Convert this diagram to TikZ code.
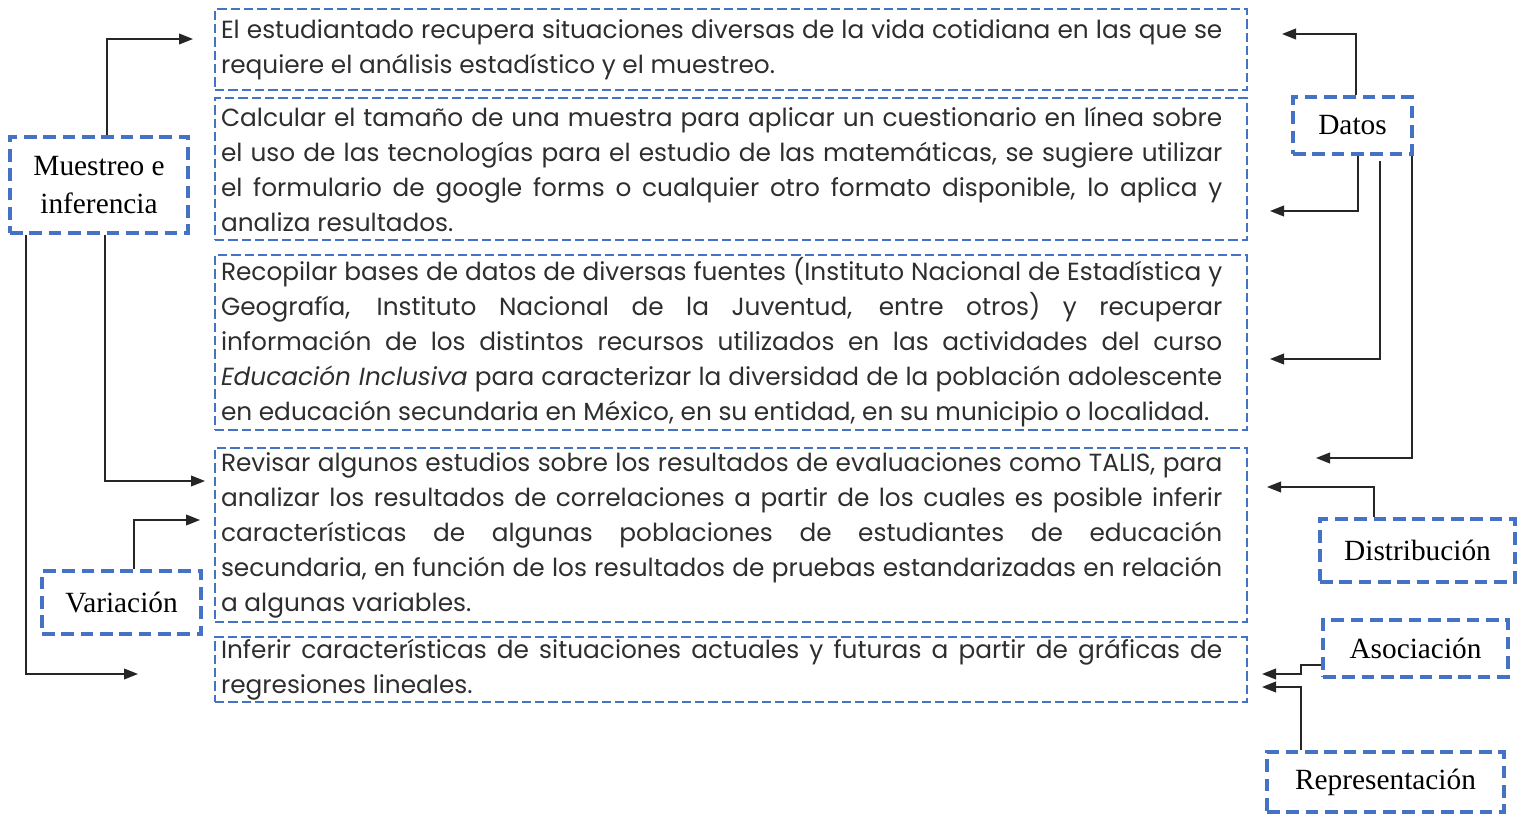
\documentclass[tikz,border=0pt]{standalone}
\usepackage{fontspec}
\setmainfont{Liberation Serif}
\newfontfamily\bodyfont{Poppins}
\usetikzlibrary{arrows.meta}
\definecolor{boxblue}{HTML}{4472C4}
\definecolor{bodytext}{HTML}{2E2E2E}
\tikzset{
  bigbox/.style={draw=boxblue, line width=1.5pt, dash pattern=on 7pt off 3pt,
    minimum width=774pt, inner xsep=4.5pt, inner ysep=0pt, text=bodytext},
  smallbox/.style={draw=boxblue, line width=2.8pt, dash pattern=on 9.5pt off 5pt,
    inner sep=0pt, align=center, font=\fontsize{22}{29}\selectfont},
  arr/.style={draw=black!85, line width=1.3pt, -{Triangle[length=10.5pt,width=8pt]}}
}
\newcommand{\bodypar}[1]{\parbox{751pt}{\bodyfont\fontsize{18.6}{26.25}\selectfont #1}\hspace*{14pt}}
\begin{document}
\begin{tikzpicture}[x=0.75pt,y=-0.75pt]
\useasboundingbox (0,0) rectangle (1524,830);
% big boxes
\node[bigbox, minimum height=60.75pt] (b1) at (731,49.5) {\bodypar{El estudiantado recupera situaciones diversas de la vida cotidiana en las que se\linebreak requiere el análisis estadístico y el muestreo.}};
\node[bigbox, minimum height=106.5pt] (b2) at (731,169) {\bodypar{Calcular el tamaño de una muestra para aplicar un cuestionario en línea sobre\linebreak el uso de las tecnologías para el estudio de las matemáticas, se sugiere utilizar\linebreak el formulario de google forms o cualquier otro formato disponible, lo aplica y\linebreak analiza resultados.}};
\node[bigbox, minimum height=131.25pt] (b3) at (731,342.5) {\bodypar{Recopilar bases de datos de diversas fuentes (Instituto Nacional de Estadística y\linebreak Geografía, Instituto Nacional de la Juventud, entre otros) y recuperar\linebreak información de los distintos recursos utilizados en las actividades del curso\linebreak \emph{Educación Inclusiva} para caracterizar la diversidad de la población adolescente\linebreak en educación secundaria en México, en su entidad, en su municipio o localidad.}};
\node[bigbox, minimum height=130.5pt] (b4) at (731,535) {\bodypar{Revisar algunos estudios sobre los resultados de evaluaciones como TALIS, para\linebreak analizar los resultados de correlaciones a partir de los cuales es posible inferir\linebreak características de algunas poblaciones de estudiantes de educación\linebreak secundaria, en función de los resultados de pruebas estandarizadas en relación\linebreak a algunas variables.}};
\node[bigbox, minimum height=48.75pt] (b5) at (731,669.5) {\bodypar{Inferir características de situaciones actuales y futuras a partir de gráficas de\linebreak regresiones lineales.}};
% small boxes
\node[smallbox, minimum width=133.5pt, minimum height=72pt] (m) at (99,185) {Muestreo e\\inferencia};
\node[smallbox, minimum width=89.25pt, minimum height=42.75pt] (d) at (1352.5,125.5) {\raisebox{-2pt}{Datos}};
\node[smallbox, minimum width=119.25pt, minimum height=47.25pt] (v) at (121.5,602.5) {Variación};
\node[smallbox, minimum width=146.25pt, minimum height=47.25pt] (di) at (1417.5,550.5) {Distribución};
\node[smallbox, minimum width=138.75pt, minimum height=42.75pt] (as) at (1415.5,648.5) {\raisebox{-1.5pt}{Asociación}};
\node[smallbox, minimum width=177.75pt, minimum height=45pt] (r) at (1385.5,782) {\raisebox{-1.5pt}{Representación}};
% arrow tips
\coordinate (t1) at (193,39);
\coordinate (t2) at (205,481);
\coordinate (t3) at (138,674);
\coordinate (t4) at (200,520);
\coordinate (t5) at (1282,34);
\coordinate (t6) at (1270,211);
\coordinate (t7) at (1270,359);
\coordinate (t8) at (1316,458);
\coordinate (t9) at (1267,487);
\coordinate (t10) at (1262,674);
\coordinate (t11) at (1262,687);
% connectors
\draw[arr] ([xshift=74.25pt]m.north west) |- (t1);
\draw[arr] ([xshift=72.75pt]m.south west) |- (t2);
\draw[arr] ([xshift=13.5pt]m.south west) |- (t3);
\draw[arr] ([xshift=70.5pt]v.north west) |- (t4);
\draw[arr] ([xshift=48.75pt]d.north west) |- (t5);
\draw[arr] ([xshift=50.25pt]d.south west) |- (t6);
\draw[arr] ([xshift=66.75pt,yshift=-4pt]d.south west) |- (t7);
\draw[arr] ([xshift=-1.5pt]d.south east) |- (t8);
\draw[arr] ([xshift=42pt]di.north west) |- (t9);
\draw[arr] ([yshift=-12.4pt]as.west) -- ++(-20,0) |- (t10);
\draw[arr] ([xshift=27pt]r.north west) |- (t11);
\end{tikzpicture}
\end{document}
